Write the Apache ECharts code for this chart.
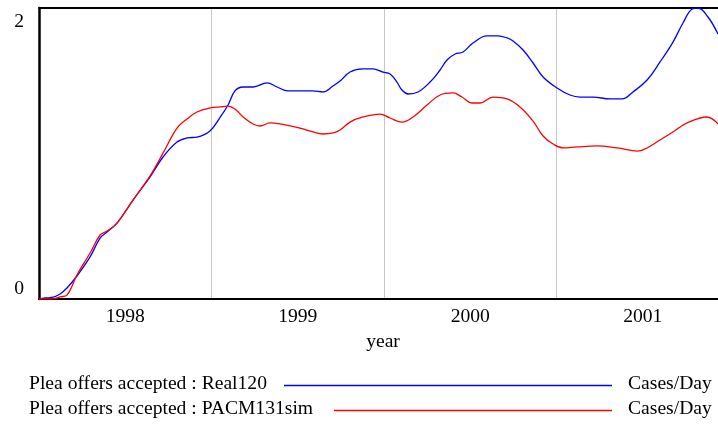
<!DOCTYPE html>
<html>
<head>
<meta charset="utf-8">
<script src="https://cdn.jsdelivr.net/npm/echarts@6/dist/echarts.min.js"></script>
<style>
  html, body { margin: 0; padding: 0; background: #fff; }
  #chart { width: 718px; height: 427px; }
</style>
</head>
<body>
<div id="chart"></div>
<script>
// time in years (label "1998" sits in the middle of 1998)
const blueYears = [1998.000, 1998.035, 1998.064, 1998.093, 1998.122, 1998.162, 1998.220, 1998.296, 1998.354, 1998.394,
  1998.452, 1998.545, 1998.643, 1998.719, 1998.800, 1998.858, 1998.916, 1998.991, 1999.049, 1999.096,
  1999.136, 1999.183, 1999.241, 1999.322, 1999.380, 1999.443, 1999.513, 1999.588, 1999.646, 1999.704,
  1999.745, 1999.803, 1999.878, 1999.936, 1999.994, 2000.035, 2000.075, 2000.104, 2000.139, 2000.197,
  2000.267, 2000.325, 2000.365, 2000.412, 2000.458, 2000.516, 2000.597, 2000.661, 2000.713, 2000.748,
  2000.806, 2000.864, 2000.922, 2001.003, 2001.078, 2001.136, 2001.212, 2001.310, 2001.380, 2001.443,
  2001.525, 2001.600, 2001.675, 2001.733, 2001.786, 2001.820, 2001.878, 2001.936];
const blueValues = [0, 0.007, 0.010, 0.017, 0.034, 0.076, 0.158, 0.289, 0.419, 0.460,
  0.522, 0.680, 0.838, 0.976, 1.079, 1.107, 1.113, 1.155, 1.247, 1.333,
  1.430, 1.457, 1.457, 1.485, 1.457, 1.430, 1.430, 1.430, 1.423, 1.464,
  1.498, 1.560, 1.581, 1.581, 1.560, 1.546, 1.491, 1.436, 1.409, 1.423,
  1.491, 1.574, 1.643, 1.684, 1.698, 1.759, 1.808, 1.808, 1.794, 1.773,
  1.711, 1.622, 1.526, 1.450, 1.402, 1.388, 1.388, 1.375, 1.375, 1.423,
  1.505, 1.629, 1.766, 1.897, 1.993, 2.000, 1.938, 1.821];

const redYears = [1998.000, 1998.035, 1998.064, 1998.093, 1998.122, 1998.162, 1998.220, 1998.296, 1998.354, 1998.394,
  1998.452, 1998.545, 1998.643, 1998.719, 1998.800, 1998.858, 1998.916, 1998.991, 1999.049, 1999.096,
  1999.136, 1999.183, 1999.241, 1999.281, 1999.339, 1999.397, 1999.513, 1999.588, 1999.646, 1999.704,
  1999.745, 1999.803, 1999.878, 1999.977, 2000.035, 2000.104, 2000.168, 2000.249, 2000.325, 2000.400,
  2000.452, 2000.510, 2000.557, 2000.632, 2000.713, 2000.788, 2000.864, 2000.922, 2000.980, 2001.038,
  2001.119, 2001.235, 2001.351, 2001.472, 2001.525, 2001.600, 2001.675, 2001.757, 2001.872, 2001.936];
const redValues = [0, 0, 0, 0.003, 0.014, 0.027, 0.165, 0.316, 0.440, 0.467,
  0.522, 0.680, 0.845, 1.003, 1.175, 1.237, 1.285, 1.313, 1.320, 1.326,
  1.306, 1.251, 1.203, 1.189, 1.210, 1.203, 1.175, 1.148, 1.134, 1.141,
  1.162, 1.216, 1.251, 1.271, 1.244, 1.216, 1.251, 1.333, 1.402, 1.416,
  1.388, 1.347, 1.347, 1.388, 1.375, 1.320, 1.223, 1.120, 1.065, 1.038,
  1.045, 1.052, 1.038, 1.017, 1.038, 1.093, 1.148, 1.210, 1.251, 1.203];

const xMin = 1998, xMax = 2001.936;
const yTicks = [0, 2];
const legendNames = ['Plea offers accepted : Real120', 'Plea offers accepted : PACM131sim'];
const units = 'Cases/Day';

const font = "'Liberation Serif', 'Times New Roman', serif";
const fs = 19.6;

const chart = echarts.init(document.getElementById('chart'));

const pairs = (xs, ys) => xs.map((x, i) => [x, ys[i]]);

const legendRows = [
  { y: 385, color: '#0000ff', x1: 284 },
  { y: 410, color: '#ff0000', x1: 334 }
];
const graphic = [];
legendRows.forEach((r, i) => {
  graphic.push({ type: 'text', left: 29, top: r.y - 11,
    style: { text: legendNames[i], font: fs + 'px ' + font, fill: '#000' } });
  graphic.push({ type: 'line', shape: { x1: r.x1, y1: r.y + 0.5, x2: 612, y2: r.y + 0.5 },
    style: { stroke: r.color, lineWidth: 1.5 } });
  graphic.push({ type: 'text', left: 628, top: r.y - 11,
    style: { text: units, font: fs + 'px ' + font, fill: '#000' } });
});

chart.setOption({
  animation: false,
  backgroundColor: '#fff',
  textStyle: { fontFamily: font },
  grid: { left: 39, top: 8, right: 0, bottom: 128 },
  xAxis: [
    {
      type: 'value', min: xMin, max: xMax, interval: 0.5, position: 'bottom',
      name: 'year', nameLocation: 'middle', nameGap: 27,
      nameTextStyle: { color: '#000', fontSize: fs, fontFamily: font, padding: [0, 0, 0, 9] },
      axisLine: { show: true, lineStyle: { color: '#000', width: 2 } },
      axisTick: { show: false },
      splitLine: { show: false },
      axisLabel: {
        color: '#000', fontSize: fs, fontFamily: font, margin: 8,
        showMinLabel: false, showMaxLabel: false,
        formatter: v => Math.abs((v % 1) - 0.5) < 1e-6 ? String(Math.floor(v)) : ''
      }
    },
    {
      type: 'value', min: xMin, max: xMax, interval: 1, position: 'top',
      axisLine: { show: true, lineStyle: { color: '#000', width: 2 } },
      axisTick: { show: false },
      axisLabel: { show: false },
      splitLine: { show: true, showMinLine: false, showMaxLine: false, lineStyle: { color: '#c8c8c8', width: 1 } }
    }
  ],
  yAxis: {
    type: 'value', min: yTicks[0], max: yTicks[1], interval: 2,
    axisLine: { show: true, lineStyle: { color: '#000', width: 2.5 } },
    axisTick: { show: false },
    splitLine: { show: false },
    axisLabel: {
      color: '#000', fontSize: fs, fontFamily: font, margin: 15, padding: [4, 0, 0, 0],
      verticalAlignMinLabel: 'bottom', verticalAlignMaxLabel: 'top',
      formatter: v => yTicks.includes(v) ? String(v) : ''
    }
  },
  series: [
    {
      name: legendNames[0], type: 'line', xAxisIndex: 0, data: pairs(blueYears, blueValues),
      showSymbol: false, smooth: 0.4, clip: true,
      lineStyle: { color: '#0000ff', width: 1.3 }
    },
    {
      name: legendNames[1], type: 'line', xAxisIndex: 0, data: pairs(redYears, redValues),
      showSymbol: false, smooth: 0.4, clip: true,
      lineStyle: { color: '#ff0000', width: 1.3 }
    }
  ],
  graphic: graphic
});
</script>
</body>
</html>
